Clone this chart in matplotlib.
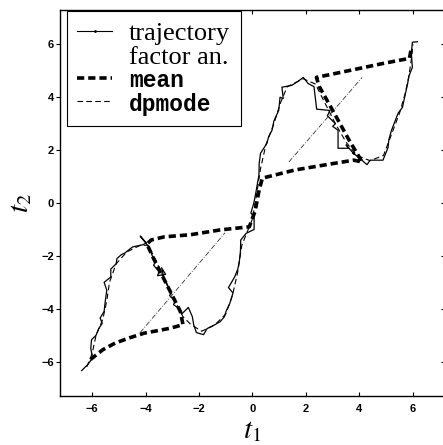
import numpy as np
import matplotlib
matplotlib.use("Agg")
import matplotlib.pyplot as plt
from matplotlib.lines import Line2D

plt.rcParams['mathtext.fontset'] = 'stix'

# trajectory
traj_t1 = [-6.39, -6.15, -5.98, -6.05, -6.02, -5.85, -5.75, -5.62, -5.7, -5.55, -5.5, -5.45, -5.55, -5.3,
           -5.3, -5.1, -5.07, -4.9, -4.77, -4.6, -4.48, -4.3, -4.1, -3.97, -4.2, -3.85, -3.75, -3.6, -3.7,
           -3.5, -3.55, -3.25, -3.4, -3.3, -3.2, -3.05, -3.1, -2.9, -2.95, -2.8, -2.65, -2.4, -2.25, -2.2,
           -2.1, -1.83, -1.7, -1.54, -1.21,
           -1.05, -0.99, -0.85, -0.73, -0.9, -0.67, -0.55, -0.49, -0.45, -0.44, -0.24, 0.06, 0.06, -0.06,
           0.05, 0.12, 0.24, 0.25, 0.3, 0.54, 0.6, 0.73, 0.8, 0.98, 1.03, 1.15, 1.1, 1.47, 1.7, 1.9, 2.08,
           2.3, 2.4, 2.9, 2.8, 3.1, 3.0, 3.2, 3.2, 3.6, 3.5, 3.8, 3.75, 4.0, 4.28, 4.4, 4.88, 5.07, 5.1,
           5.2, 5.39, 5.45, 5.61, 5.69, 5.8, 5.85, 5.98, 5.94, 5.98, 6.17]
traj_t2 = [-6.34, -6.1, -5.85, -5.5, -5.17, -5.0, -4.75, -4.55, -4.35, -4.1, -3.66, -3.3, -3.0, -2.8,
           -2.5, -2.3, -2.1, -1.95, -1.89, -1.75, -1.66, -1.62, -1.58, -1.51, -1.25, -1.7, -2.0, -2.2, -2.35,
           -2.6, -2.75, -2.7, -2.45, -2.9, -3.05, -3.4, -3.5, -3.7, -3.85, -3.95, -4.2, -3.95, -4.3, -4.6,
           -4.9, -4.98, -4.75, -4.68, -4.49,
           -4.3, -4.1, -3.8, -3.4, -3.2, -2.8, -2.5, -2.2, -1.8, -1.4, -1.15, -1.0, -0.52, -0.38,
           0.0, 0.36, 1.05, 1.5, 1.88, 2.26, 2.5, 2.75, 3.1, 3.5, 4.0, 3.95, 4.38, 4.45, 4.6, 4.75, 4.52,
           4.4, 3.55, 3.5, 3.3, 3.0, 2.9, 2.75, 2.07, 2.07, 2.2, 1.85, 1.9, 1.7, 1.45, 1.62, 1.62, 2.1, 2.4,
           2.75, 3.25, 3.4, 3.62, 4.0, 4.5, 4.8, 5.13, 5.66, 6.08, 6.1]

# factor analysis
fa_t1 = [-4.2, -1.03, np.nan, 1.36, 4.1]
fa_t2 = [-4.9, -1.13, np.nan, 1.55, 4.75]

# mean
mean_t1 = [-6.06, -5.6, -5.14, -4.6, -4.04, -3.5, -3.05, -2.6, -2.7, -3.2, -3.7, -3.95, -3.79, -3.3,
           -2.32, -1.22, -0.12, 0.1, 0.25, 0.37, 1.59, 3.06, 3.79, 4.1, 3.6, 3.0, 2.5, 2.39, 3.67, 4.89,
           5.87, 5.95]
mean_t2 = [-5.92, -5.55, -5.3, -5.1, -4.92, -4.82, -4.73, -4.6, -4.1, -3.1, -2.1, -1.55, -1.4, -1.28,
           -1.2, -1.02, -0.9, -0.3, 0.5, 0.94, 1.25, 1.5, 1.62, 1.55, 2.4, 3.5, 4.4, 4.75, 5.02, 5.28,
           5.47, 5.9]

# dpmode
dp_t1 = [-6.2, -6.0, -5.85, -5.6, -5.45, -5.35, -5.1, -4.7, -4.2, -3.9, -3.6, -3.3, -2.95, -2.6, -2.3,
         -1.9, -1.4, -1.0, -0.75, -0.55, -0.4, -0.2, 0.0, 0.15, 0.3, 0.5, 0.8, 1.05, 1.3, 1.9, 2.35, 2.7,
         3.1, 3.5, 3.9, 4.4, 4.9, 5.2, 5.5, 5.7, 5.85, 5.95, 6.0]
dp_t2 = [-6.2, -5.7, -5.0, -4.4, -3.7, -3.0, -2.3, -1.85, -1.6, -1.6, -2.2, -2.9, -3.6, -4.3, -4.6,
         -4.85, -4.6, -4.2, -3.5, -2.6, -1.6, -1.1, -0.6, 0.3, 1.3, 2.2, 3.0, 3.8, 4.4, 4.7, 4.5, 3.8,
         3.0, 2.3, 1.8, 1.6, 1.8, 2.6, 3.4, 4.1, 4.8, 5.5, 6.0]

ticks = [-6, -4, -2, 0, 2, 4, 6]
tick_labels = ['\u22126', '\u22124', '\u22122', '0', '2', '4', '6']

fig = plt.figure(figsize=(4.43, 4.45), dpi=100)
ax = fig.add_axes([60/443, 49/445, 385/443, 386/445])

ax.plot(traj_t1, traj_t2, color='black', lw=0.9, label='trajectory')
ax.plot(fa_t1, fa_t2, color='#333333', lw=0.6, linestyle=(0, (6, 2, 1, 2)), label='factor an.')
ax.plot(mean_t1, mean_t2, color='black', lw=2.6, linestyle=(0, (2.0, 1.1)), label='mean')
ax.plot(dp_t1, dp_t2, color='black', lw=0.8, linestyle=(0, (5, 3)), label='dpmode')

ax.set_xlim(-7.2, 7.2)
ax.set_ylim(-7.3, 7.3)
ax.set_xticks(ticks)
ax.set_yticks(ticks)
ax.set_xticklabels(tick_labels)
ax.set_yticklabels(tick_labels)
ax.tick_params(axis='x', direction='in', length=3, width=0.8, top=True, labelsize=8, pad=6)
ax.tick_params(axis='y', direction='out', length=3, width=0.8, labelsize=8, pad=1.5)
ax.tick_params(axis='y', which='major', right=True)
for tk in ax.yaxis.get_major_ticks():
    tk.tick2line.set_marker(matplotlib.lines.TICKLEFT)
for lab in ax.get_xticklabels() + ax.get_yticklabels():
    lab.set_fontfamily('Liberation Sans')
    lab.set_fontweight('bold')
for s in ax.spines.values():
    s.set_linewidth(1.0)

ax.set_xlabel(r'$t_1$', fontsize=21, labelpad=1)
ax.set_ylabel(r'$t_2$', fontsize=21, labelpad=5)

handles = [Line2D([], [], color='black', lw=0.8, marker='.', markersize=2),
           Line2D([], [], linestyle='none'),
           Line2D([], [], color='black', lw=2.6, linestyle=(0, (2.0, 1.1))),
           Line2D([], [], color='black', lw=0.8, linestyle=(0, (5, 3)))]
labels = ['trajectory', 'factor an.', 'mean', 'dpmode']
leg = ax.legend(handles, labels, loc='upper left', bbox_to_anchor=(0.018, 0.997), borderaxespad=0,
                fancybox=False, framealpha=1, edgecolor='black', fontsize=19, handlelength=1.3,
                handletextpad=0.65, labelspacing=0.0, borderpad=0.4)
leg.get_frame().set_linewidth(0.8)
txts = leg.get_texts()
for t in txts[:2]:
    t.set_fontfamily('Liberation Serif')
for t in txts[2:]:
    t.set_fontfamily('Liberation Mono')
    t.set_fontweight('bold')
    t.set_fontsize(16.5)

fig.savefig('out.png', dpi=100)
